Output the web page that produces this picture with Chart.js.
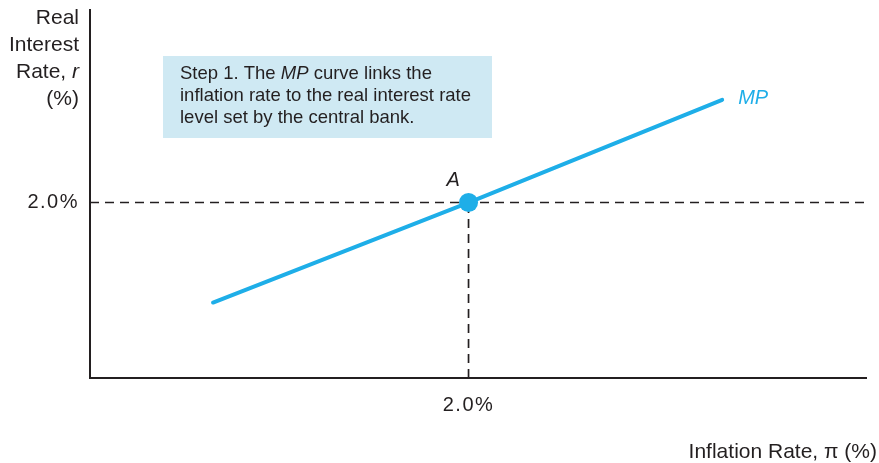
<!DOCTYPE html>
<html lang="en">
<head>
<meta charset="UTF-8">
<title>MP curve</title>
<script src="https://cdn.jsdelivr.net/npm/chart.js"></script>
<style>
  html, body { margin: 0; padding: 0; background: #fff; }
  #wrap { width: 879px; height: 463px; }
</style>
</head>
<body>
<div id="wrap"><canvas id="mpChart"></canvas></div>
<script>
// data (in % units)
const mpInflation = [0.65, 2.0, 3.34];
const mpRealRate = [0.86, 2.0, 3.17];
const pointA = { x: 2.0, y: 2.0 };
const xTicks = [2.0];
const yTicks = [2.0];
const xMax = 4.1;
const yMax = 4.2;

const INK = '#231f20';
const BLUE = '#1eaee8';
const FONT = '"Liberation Sans", Arial, sans-serif';

const mpPoints = mpInflation.map((x, i) => ({ x: x, y: mpRealRate[i] }));

// draws mixed normal/italic runs, right or left aligned
function drawRuns(ctx, runs, x, y, size, align) {
    let total = 0;
    runs.forEach(r => {
        ctx.font = (r.it ? 'italic ' : '') + size + 'px ' + FONT;
        r.w = ctx.measureText(r.t).width;
        total += r.w;
    });
    let cx = align === 'right' ? x - total : x;
    runs.forEach(r => {
        ctx.font = (r.it ? 'italic ' : '') + size + 'px ' + FONT;
        ctx.fillText(r.t, cx, y);
        cx += r.w;
    });
}

const labelsPlugin = {
    id: 'labels',
    beforeDraw(chart) {
        // tick labels in the original are spaced out a bit
        if ('letterSpacing' in chart.ctx) chart.ctx.letterSpacing = '1.5px';
    },
    beforeDatasetsDraw(chart) {
        const ctx = chart.ctx;
        if ('letterSpacing' in ctx) ctx.letterSpacing = '0px';
        ctx.save();
        ctx.fillStyle = '#cfe9f3';
        ctx.fillRect(163, 56, 329, 82);
        ctx.fillStyle = INK;
        ctx.textBaseline = 'middle';
        ctx.textAlign = 'left';
        drawRuns(ctx, [{ t: 'Step 1. The ' }, { t: 'MP', it: true }, { t: ' curve links the' }], 180, 74, 18.5);
        drawRuns(ctx, [{ t: 'inflation rate to the real interest rate' }], 180, 96, 18.5);
        drawRuns(ctx, [{ t: 'level set by the central bank.' }], 180, 118, 18.5);
        ctx.restore();
    },
    afterDraw(chart) {
        const ctx = chart.ctx;
        const xs = chart.scales.x, ys = chart.scales.y;
        ctx.save();
        ctx.fillStyle = INK;
        ctx.textBaseline = 'middle';
        ctx.textAlign = 'left';
        drawRuns(ctx, [{ t: 'Real' }], 79, 18, 21, 'right');
        drawRuns(ctx, [{ t: 'Interest' }], 79, 45, 21, 'right');
        drawRuns(ctx, [{ t: 'Rate, ' }, { t: 'r', it: true }], 79, 72, 21, 'right');
        drawRuns(ctx, [{ t: '(%)' }], 79, 99, 21, 'right');
        drawRuns(ctx, [{ t: 'Inflation Rate, π (%)' }], 877, 452, 21, 'right');
        // point and curve labels
        drawRuns(ctx, [{ t: 'A', it: true }], xs.getPixelForValue(pointA.x) - 22, ys.getPixelForValue(pointA.y) - 22, 20);
        ctx.fillStyle = BLUE;
        const last = mpPoints[mpPoints.length - 1];
        drawRuns(ctx, [{ t: 'MP', it: true }], xs.getPixelForValue(last.x) + 16, ys.getPixelForValue(last.y) - 1, 20);
        ctx.restore();
    }
};

const dashed = { borderColor: INK, borderWidth: 1.7, borderDash: [9, 6], pointRadius: 0, showLine: true, fill: false };

// first dataset is drawn on top
new Chart(document.getElementById('mpChart'), {
    type: 'scatter',
    data: {
        datasets: [
            {
                label: 'A',
                data: [pointA],
                pointRadius: 9.5,
                pointBackgroundColor: BLUE,
                pointBorderWidth: 0
            },
            {
                label: 'MP',
                data: mpPoints,
                showLine: true,
                borderColor: BLUE,
                borderWidth: 4,
                pointRadius: 0,
                borderCapStyle: 'round'
            },
            Object.assign({ data: [{ x: 0, y: yTicks[0] }, { x: xMax, y: yTicks[0] }] }, dashed),
            Object.assign({ data: [{ x: xTicks[0], y: 0 }, { x: xTicks[0], y: yTicks[0] }] }, dashed)
        ]
    },
    options: {
        responsive: true,
        maintainAspectRatio: false,
        animation: false,
        layout: { padding: { top: 8, right: 13, left: 0, bottom: 0 } },
        plugins: { legend: { display: false }, tooltip: { enabled: false } },
        scales: {
            x: {
                type: 'linear',
                min: 0,
                max: xMax,
                afterBuildTicks: s => { s.ticks = xTicks.map(v => ({ value: v })); },
                afterFit: s => { s.height = 85; s.paddingLeft = 0; s.paddingRight = 0; },
                grid: { display: false, drawTicks: false, tickLength: 0 },
                border: { display: true, color: INK, width: 2 },
                ticks: {
                    padding: 15,
                    color: INK,
                    font: { family: FONT, size: 20 },
                    callback: v => v.toFixed(1) + '%'
                }
            },
            y: {
                type: 'linear',
                min: 0,
                max: yMax,
                afterBuildTicks: s => { s.ticks = yTicks.map(v => ({ value: v })); },
                afterFit: s => { s.width = 90; s.paddingTop = 0; s.paddingBottom = 0; },
                grid: { display: false, drawTicks: false, tickLength: 0 },
                border: { display: true, color: INK, width: 2 },
                ticks: {
                    padding: 11,
                    color: INK,
                    font: { family: FONT, size: 20 },
                    callback: v => v.toFixed(1) + '%'
                }
            }
        }
    },
    plugins: [labelsPlugin]
});
</script>
</body>
</html>
